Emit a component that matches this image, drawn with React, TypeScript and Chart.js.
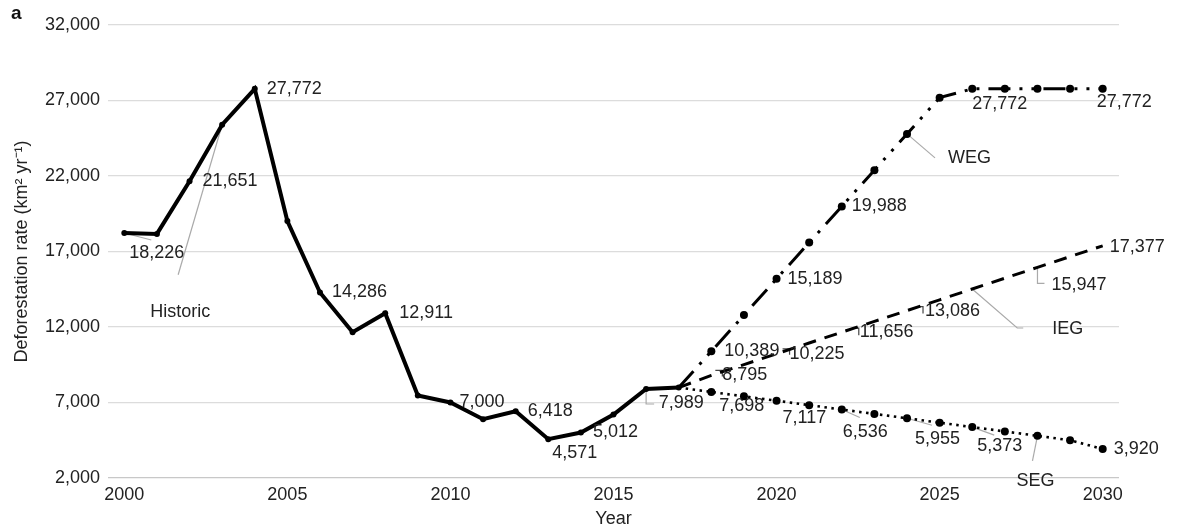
import React, { useEffect, useRef } from "react";
import { Chart, registerables } from "chart.js";

Chart.register(...registerables);

// ---------- data ----------
const HIST_YEARS = [2000, 2001, 2002, 2003, 2004, 2005, 2006, 2007, 2008, 2009, 2010, 2011, 2012, 2013, 2014, 2015, 2016, 2017];
const HISTORIC = [18226, 18165, 21651, 25396, 27772, 19014, 14286, 11651, 12911, 7464, 7000, 5891, 6418, 4571, 5012, 6207, 7893, 7989];

const PROJ_YEARS = [2017, 2018, 2019, 2020, 2021, 2022, 2023, 2024, 2025, 2026, 2027, 2028, 2029, 2030];
const WEG = [7989, 10389, 12789, 15189, 17589, 19988, 22388, 24788, 27188, 27772, 27772, 27772, 27772, 27772];
const IEG = [7989, 8795, 9510, 10225, 10941, 11656, 12371, 13086, 13801, 14516, 15232, 15947, 16662, 17377];
const SEG = [7989, 7698, 7407, 7117, 6826, 6536, 6245, 5955, 5664, 5373, 5083, 4792, 4501, 3920];

const X_TICKS = [2000, 2005, 2010, 2015, 2020, 2025, 2030];
const Y_TICKS = [2000, 7000, 12000, 17000, 22000, 27000, 32000];

const X_TITLE = "Year";
const Y_TITLE = "Deforestation rate (km\u00B2 yr\u207B\u00B9)";
const PANEL = "a";

// ---------- annotation layout (series key, point index, pixel offsets) ----------
const VALUE_LABELS = [
  { s: "H", i: 4, dx: 12, dy: 0 },
  { s: "H", i: 2, dx: 13, dy: 0 },
  { s: "H", i: 0, dx: 5, dy: 20 },
  { s: "H", i: 6, dx: 12, dy: 0 },
  { s: "H", i: 8, dx: 14, dy: 0 },
  { s: "H", i: 10, dx: 9, dy: 0 },
  { s: "H", i: 12, dx: 12, dy: 0 },
  { s: "H", i: 13, dx: 4, dy: 14 },
  { s: "H", i: 14, dx: 12, dy: 0 },
  { s: "H", i: 17, dx: -20, dy: 15 },
  { s: "W", i: 1, dx: 13, dy: 0 },
  { s: "W", i: 3, dx: 11, dy: 0 },
  { s: "W", i: 5, dx: 10, dy: 0 },
  { s: "W", i: 10, dx: -5, dy: 15, align: "center" },
  { s: "W", i: 13, dx: -6, dy: 13 },
  { s: "I", i: 1, dx: 11, dy: 0 },
  { s: "I", i: 3, dx: 13, dy: 0 },
  { s: "I", i: 5, dx: 18, dy: 0 },
  { s: "I", i: 7, dx: 18, dy: 0 },
  { s: "I", i: 11, dx: 14, dy: 18 },
  { s: "I", i: 13, dx: 7, dy: 1 },
  { s: "S", i: 1, dx: 8, dy: 14 },
  { s: "S", i: 3, dx: 6, dy: 17 },
  { s: "S", i: 5, dx: 1, dy: 23 },
  { s: "S", i: 7, dx: 8, dy: 21 },
  { s: "S", i: 9, dx: 5, dy: 19 },
  { s: "S", i: 13, dx: 11, dy: 0 },
];

const NAME_LABELS = [
  { text: "Historic", s: "H", i: 3, dx: -72, dy: 187 },
  { text: "WEG", s: "W", i: 7, dx: 41, dy: 24 },
  { text: "IEG", s: "I", i: 9, dx: 80, dy: 40 },
  { text: "SEG", s: "S", i: 11, dx: -21, dy: 45 },
];

const LEADERS = [
  { s: "H", i: 0, pts: [[0, 0], [27, 7]], c: "#aaaaaa" },
  { s: "H", i: 3, pts: [[0, 0], [-44, 150]], c: "#aaaaaa" },
  { s: "H", i: 16, pts: [[0, 0], [0, 15], [8, 15]], c: "#aaaaaa" },
  { s: "W", i: 7, pts: [[0, 0], [28, 24]], c: "#aaaaaa" },
  { s: "I", i: 9, pts: [[0, 0], [45, 39], [51, 39]], c: "#aaaaaa" },
  { s: "I", i: 11, pts: [[0, 0], [0, 16], [7, 16]], c: "#aaaaaa" },
  { s: "I", i: 1, pts: [[4, -5], [11, -5], [11, 1]], c: "#444444" },
  { s: "I", i: 3, pts: [[6, -5], [13, -5], [13, 1]], c: "#444444" },
  { s: "I", i: 5, pts: [[10, -4], [17, -4], [17, 3]], c: "#444444" },
  { s: "I", i: 7, pts: [[9, -4], [16, -4], [16, 3]], c: "#444444" },
  { s: "S", i: 5, pts: [[0, 0], [18, 8]], c: "#aaaaaa" },
  { s: "S", i: 7, pts: [[0, 0], [25, 7]], c: "#aaaaaa" },
  { s: "S", i: 9, pts: [[0, 0], [22, 8]], c: "#aaaaaa" },
  { s: "S", i: 11, pts: [[0, 0], [-5, 25]], c: "#aaaaaa" },
];

const FONT = "Liberation Sans, Arial, Helvetica, sans-serif";
const TEXT = "#222222";

const SERIES: Record<string, { years: number[]; values: number[] }> = {
  H: { years: HIST_YEARS, values: HISTORIC },
  W: { years: PROJ_YEARS, values: WEG },
  I: { years: PROJ_YEARS, values: IEG },
  S: { years: PROJ_YEARS, values: SEG },
};

const fmt = (v: number) => String(v).replace(/\B(?=(\d{3})+(?!\d))/g, ",");
const toXY = (years: number[], vals: number[]) => years.map((x, k) => ({ x, y: vals[k] }));

const annotations = {
  id: "annotations",
  beforeDatasetsDraw(chart: any) {
    const { ctx, scales } = chart;
    const anchor = (s: string, i: number) => {
      const d = SERIES[s];
      return [scales.x.getPixelForValue(d.years[i]), scales.y.getPixelForValue(d.values[i])];
    };
    ctx.save();
    ctx.lineWidth = 1.2;
    LEADERS.forEach((l) => {
      const [ax, ay] = anchor(l.s, l.i);
      ctx.strokeStyle = l.c;
      ctx.beginPath();
      l.pts.forEach(([dx, dy], k) => {
        if (k === 0) ctx.moveTo(ax + dx, ay + dy);
        else ctx.lineTo(ax + dx, ay + dy);
      });
      ctx.stroke();
    });
    ctx.restore();
  },
  afterDatasetsDraw(chart: any) {
    const { ctx, scales, chartArea } = chart;
    const anchor = (s: string, i: number) => {
      const d = SERIES[s];
      return [scales.x.getPixelForValue(d.years[i]), scales.y.getPixelForValue(d.values[i])];
    };
    ctx.save();
    ctx.fillStyle = TEXT;
    ctx.font = `18px ${FONT}`;
    ctx.textBaseline = "middle";
    VALUE_LABELS.forEach((l: any) => {
      const [ax, ay] = anchor(l.s, l.i);
      ctx.textAlign = l.align || "left";
      ctx.fillText(fmt(SERIES[l.s].values[l.i]), ax + l.dx, ay + l.dy);
    });
    NAME_LABELS.forEach((l) => {
      const [ax, ay] = anchor(l.s, l.i);
      ctx.textAlign = "left";
      ctx.fillText(l.text, ax + l.dx, ay + l.dy);
    });
    // axis titles
    ctx.textAlign = "center";
    ctx.fillText(X_TITLE, (chartArea.left + chartArea.right) / 2, 519);
    ctx.save();
    ctx.translate(22, (chartArea.top + chartArea.bottom) / 2);
    ctx.rotate(-Math.PI / 2);
    ctx.fillText(Y_TITLE, 0, 0);
    ctx.restore();
    // panel letter
    ctx.font = `bold 19px ${FONT}`;
    ctx.textAlign = "left";
    ctx.fillStyle = "#111";
    ctx.fillText(PANEL, 11, 14);
    ctx.restore();
  },
};

export default function App() {
  const ref = useRef<HTMLCanvasElement | null>(null);

  useEffect(() => {
    document.body.style.margin = "0";
    const canvas = ref.current;
    if (!canvas) return;
    const chart = new Chart(canvas, {
      type: "line",
      data: {
        datasets: [
          {
            label: "Historic",
            data: toXY(HIST_YEARS, HISTORIC),
            borderColor: "#000",
            backgroundColor: "#000",
            borderWidth: 4,
            pointRadius: 3,
            pointBackgroundColor: "#000",
            pointBorderWidth: 0,
            tension: 0,
          },
          {
            label: "WEG",
            data: toXY(PROJ_YEARS, WEG),
            borderColor: "#000",
            backgroundColor: "#000",
            borderWidth: 3,
            borderDash: [22, 9, 3, 9, 3, 9],
            pointRadius: PROJ_YEARS.map((_, k) => (k === 0 ? 0 : 4)),
            pointBorderWidth: 0,
            tension: 0,
          },
          {
            label: "IEG",
            data: toXY(PROJ_YEARS, IEG),
            borderColor: "#000",
            borderWidth: 3,
            borderDash: [13, 9],
            pointRadius: 0,
            tension: 0,
          },
          {
            label: "SEG",
            data: toXY(PROJ_YEARS, SEG),
            borderColor: "#000",
            backgroundColor: "#000",
            borderWidth: 2.6,
            borderDash: [2.5, 4.5],
            pointRadius: PROJ_YEARS.map((_, k) => (k === 0 ? 0 : 4)),
            pointBorderWidth: 0,
            tension: 0,
          },
        ],
      },
      options: {
        animation: false,
        responsive: false,
        devicePixelRatio: 1,
        layout: { padding: { top: 25, right: 60, left: 0, bottom: 0 } },
        plugins: {
          legend: { display: false },
          tooltip: { enabled: false },
          title: { display: false },
        },
        scales: {
          x: {
            type: "linear",
            min: 1999.5,
            max: 2030.5,
            afterBuildTicks: (s: any) => {
              s.ticks = X_TICKS.map((value) => ({ value }));
            },
            afterFit: (s: any) => {
              s.height = 53;
            },
            grid: { display: false, drawTicks: false },
            border: { display: false },
            ticks: {
              padding: 6,
              maxRotation: 0,
              autoSkip: false,
              color: TEXT,
              font: { family: FONT, size: 18 },
              callback: (v: any) => String(v),
            },
          },
          y: {
            type: "linear",
            min: 2000,
            max: 32000,
            afterBuildTicks: (s: any) => {
              s.ticks = Y_TICKS.map((value) => ({ value }));
            },
            afterFit: (s: any) => {
              s.width = 108;
            },
            grid: {
              drawTicks: false,
              color: (c: any) => (c.tick && c.tick.value === 2000 ? "#c8c8c8" : "#dcdcdc"),
              lineWidth: 1.3,
            },
            border: { display: false },
            ticks: {
              padding: 8,
              autoSkip: false,
              color: TEXT,
              font: { family: FONT, size: 18 },
              callback: (v: any) => fmt(Number(v)),
            },
          },
        },
      },
      plugins: [annotations],
    } as any);
    return () => chart.destroy();
  }, []);

  return (
    <div style={{ width: 1179, height: 531, background: "#fff" }}>
      <canvas ref={ref} width={1179} height={531} style={{ display: "block" }} />
    </div>
  );
}
